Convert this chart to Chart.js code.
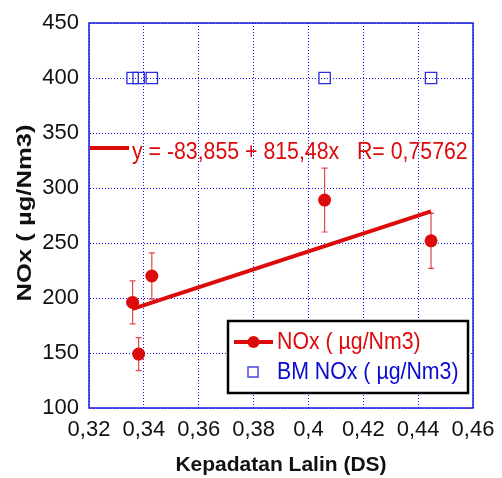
<!DOCTYPE html>
<html>
<head>
<meta charset="utf-8">
<script src="https://cdn.jsdelivr.net/npm/chart.js@4"></script>
<style>
    html, body { margin: 0; padding: 0; background: #fff; }
</style>
</head>
<body>
<canvas id="grafico-nox" width="502" height="478"></canvas>
<script>
// data
const noxX = [0.3359, 0.3381, 0.3429, 0.4059, 0.4447];
const noxY = [196, 149, 220, 289, 252];
const noxErr = [19.5, 15, 21, 29, 25];
const bmX = [0.3359, 0.3381, 0.3429, 0.4059, 0.4447];
const bmY = [400, 400, 400, 400, 400];
const fitA = -83.855;
const fitB = 815.48;
const fitR = 0.75762;
const xTickLabels = ['0,32', '0,34', '0,36', '0,38', '0,4', '0,42', '0,44', '0,46'];
const yTickLabels = ['100', '150', '200', '250', '300', '350', '400', '450'];

const RED = '#dd0a0a';
const BLUE = '#0a0ad0';
const FONT = "'Liberation Sans', Arial, sans-serif";

const fmt = v => String(v).replace('.', ',');
const fitText = 'y = ' + fmt(fitA) + ' + ' + fmt(fitB) + 'x   R= ' + fmt(fitR);
const xMin = Math.min(...noxX);
const xMax = Math.max(...noxX);

function drawText(ctx, text, x, y, font, color, align, sx, sy, rot) {
    ctx.save();
    ctx.translate(x, y);
    if (rot) ctx.rotate(rot);
    ctx.scale(sx, sy);
    ctx.font = font;
    ctx.fillStyle = color;
    ctx.textAlign = align;
    ctx.textBaseline = 'middle';
    ctx.fillText(text, 0, 0);
    ctx.restore();
}

const extras = {
    id: 'extras',
    beforeDatasetsDraw(chart) {
        const {ctx, chartArea: a, scales: {x, y}} = chart;
        // frame
        ctx.save();
        ctx.strokeStyle = '#1a1ae0';
        ctx.lineWidth = 1.5;
        ctx.strokeRect(a.left, a.top, a.right - a.left, a.bottom - a.top);
        // error bars
        ctx.strokeStyle = '#e04848';
        ctx.lineWidth = 1.2;
        noxX.forEach((vx, i) => {
            const px = x.getPixelForValue(vx);
            const top = y.getPixelForValue(noxY[i] + noxErr[i]);
            const bot = y.getPixelForValue(noxY[i] - noxErr[i]);
            ctx.beginPath();
            ctx.moveTo(px, top); ctx.lineTo(px, bot);
            ctx.moveTo(px - 3, top); ctx.lineTo(px + 3, top);
            ctx.moveTo(px - 3, bot); ctx.lineTo(px + 3, bot);
            ctx.stroke();
        });
        ctx.restore();
    },
    afterDraw(chart) {
        const {ctx} = chart;
        // y axis title
        drawText(ctx, 'NOx ( µg/Nm3)', 25, 213, 'bold 20px ' + FONT, '#111', 'center', 1.28, 1, -Math.PI / 2);

        // fit equation with its line marker
        ctx.save();
        ctx.strokeStyle = RED;
        ctx.lineWidth = 4;
        ctx.beginPath();
        ctx.moveTo(90, 148); ctx.lineTo(129, 148);
        ctx.stroke();
        ctx.restore();
        drawText(ctx, fitText, 132, 152, '21.3px ' + FONT, RED, 'left', 1, 1.15);

        // legend
        const ds = chart.data.datasets;
        ctx.save();
        ctx.fillStyle = '#fff';
        ctx.fillRect(228, 321, 240, 72);
        ctx.strokeStyle = '#000';
        ctx.lineWidth = 2.5;
        ctx.strokeRect(228, 321, 240, 72);
        ctx.strokeStyle = RED;
        ctx.lineWidth = 4;
        ctx.beginPath();
        ctx.moveTo(234, 342); ctx.lineTo(273, 342);
        ctx.stroke();
        ctx.fillStyle = RED;
        ctx.beginPath();
        ctx.arc(253.5, 342, 6, 0, Math.PI * 2);
        ctx.fill();
        ctx.strokeStyle = '#4848e0';
        ctx.lineWidth = 1.5;
        ctx.strokeRect(248, 367, 10, 10);
        ctx.restore();
        drawText(ctx, ds[1].label, 277, 342, '21.3px ' + FONT, RED, 'left', 1, 1.15);
        drawText(ctx, ds[2].label, 277, 372, '21.3px ' + FONT, BLUE, 'left', 1, 1.15);
    }
};

const gridOpts = { color: '#1010e8', lineWidth: 1, drawTicks: false };
const borderOpts = { display: true, color: 'rgba(0,0,0,0)', dash: [1, 2] };

const ctx = document.getElementById('grafico-nox').getContext('2d');
const chart = new Chart(ctx, {
    type: 'scatter',
    data: {
        datasets: [{
            label: 'fit',
            type: 'line',
            data: [{x: xMin, y: fitA + fitB * xMin}, {x: xMax, y: fitA + fitB * xMax}],
            borderColor: RED,
            borderWidth: 4,
            pointRadius: 0,
            fill: false
        }, {
            label: 'NOx ( µg/Nm3)',
            data: noxX.map((v, i) => ({x: v, y: noxY[i]})),
            backgroundColor: RED,
            borderColor: RED,
            pointRadius: 6.5,
            pointBorderWidth: 0
        }, {
            label: 'BM NOx ( µg/Nm3)',
            data: bmX.map((v, i) => ({x: v, y: bmY[i]})),
            pointStyle: 'rect',
            pointRadius: 8,
            backgroundColor: 'rgba(0,0,0,0)',
            borderColor: '#2c2cdc',
            pointBorderWidth: 1.3
        }]
    },
    options: {
        responsive: false,
        animation: false,
        layout: { padding: { top: 23, right: 29, left: 0, bottom: 0 } },
        plugins: { legend: { display: false }, tooltip: { enabled: false } },
        scales: {
            x: {
                type: 'linear',
                min: 0.32,
                max: 0.46,
                afterFit: s => { s.height = 70; s.paddingLeft = 0; s.paddingRight = 0; },
                ticks: {
                    stepSize: 0.02,
                    padding: 9,
                    color: '#111',
                    font: { family: FONT, size: 22 },
                    callback: (v, i) => xTickLabels[i]
                },
                grid: gridOpts,
                border: borderOpts,
                title: {
                    display: true,
                    text: 'Kepadatan Lalin (DS)',
                    color: '#111',
                    font: { family: FONT, size: 21, weight: 'bold' },
                    padding: { top: 0, bottom: 0 }
                }
            },
            y: {
                min: 100,
                max: 450,
                afterFit: s => { s.width = 89; s.paddingTop = 0; s.paddingBottom = 0; },
                ticks: {
                    stepSize: 50,
                    padding: 10,
                    color: '#111',
                    font: { family: FONT, size: 22 },
                    callback: (v, i) => yTickLabels[i]
                },
                grid: gridOpts,
                border: borderOpts
            }
        }
    },
    plugins: [extras]
});
</script>
</body>
</html>
